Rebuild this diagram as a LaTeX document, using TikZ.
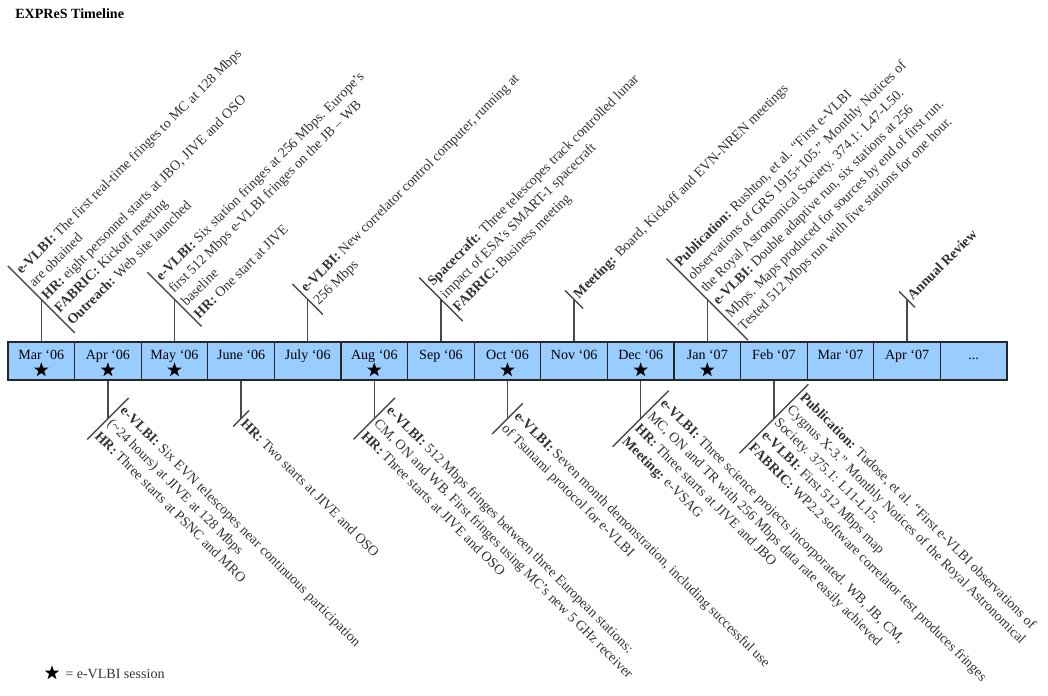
\documentclass[tikz,border=0pt]{standalone}
\usepackage{fontspec}
\setmainfont{Liberation Serif}
\usetikzlibrary{shapes.geometric}
\definecolor{cellblue}{HTML}{99CCFF}
\definecolor{lgrey}{HTML}{4A4A4A}
\definecolor{tgrey}{HTML}{333333}
\tikzset{
  every picture/.style={line width=0.9pt},
  month/.style={draw=black!85, fill=cellblue, minimum width=1.665cm, minimum height=0.95cm, inner sep=0pt, text height=7pt, text depth=9pt, font=\fontsize{10}{12}\selectfont},
  estar/.style={star, star points=5, star point ratio=2.5, fill=black, minimum size=0.38cm, inner sep=0pt},
  callout/.style={anchor=west, align=left, inner xsep=2pt, inner ysep=4pt, text=tgrey, font=\fontsize{10}{12.8}\selectfont},
  upnote/.style={callout, rotate=45},
  downnote/.style={callout, rotate=-45},
  lead/.style={draw=lgrey, line width=1pt},
  title/.style={font=\bfseries, anchor=west},
}

\begin{document}
\begin{tikzpicture}
  \useasboundingbox (0,0) rectangle (26.2,-17.4);
  \node[title] (head) at (0.25,-0.35) {EXPReS Timeline};
  % ---------------- the months
  \node[month] (mar06) at (1.0325,-9.025) {Mar ‘06};
  \node[month] (apr06) at (2.6975,-9.025) {Apr ‘06};
  \node[month] (may06) at (4.3625,-9.025) {May ‘06};
  \node[month] (jun06) at (6.0275,-9.025) {June ‘06};
  \node[month] (jul06) at (7.6925,-9.025) {July ‘06};
  \node[month] (aug06) at (9.3575,-9.025) {Aug ‘06};
  \node[month] (sep06) at (11.0225,-9.025) {Sep ‘06};
  \node[month] (oct06) at (12.6875,-9.025) {Oct ‘06};
  \node[month] (nov06) at (14.3525,-9.025) {Nov ‘06};
  \node[month] (dec06) at (16.0175,-9.025) {Dec ‘06};
  \node[month] (jan07) at (17.6825,-9.025) {Jan ‘07};
  \node[month] (feb07) at (19.3475,-9.025) {Feb ‘07};
  \node[month] (mar07) at (21.0125,-9.025) {Mar ‘07};
  \node[month] (apr07) at (22.6775,-9.025) {Apr ‘07};
  \node[month] (more) at (24.3425,-9.025) {...};
  % ---------------- e-VLBI sessions
  \node[estar] (smar06) at ([yshift=-0.225cm]mar06.center) {};
  \node[estar] (sapr06) at ([yshift=-0.225cm]apr06.center) {};
  \node[estar] (smay06) at ([yshift=-0.225cm]may06.center) {};
  \node[estar] (saug06) at ([yshift=-0.225cm]aug06.center) {};
  \node[estar] (soct06) at ([yshift=-0.225cm]oct06.center) {};
  \node[estar] (sdec06) at ([yshift=-0.225cm]dec06.center) {};
  \node[estar] (sjan07) at ([yshift=-0.225cm]jan07.center) {};
  % ---------------- notes above the bar
  \node[upnote] (tmar06) at ([yshift=1.05cm]mar06.north) {\textbf{e-VLBI:} The first real-time fringes to MC at 128 Mbps\\ are obtained\\ \textbf{HR:} eight personnel starts at JBO, JIVE and OSO\\ \textbf{FABRIC:} Kickoff meeting\\ \textbf{Outreach:} Web site launched};
  \draw[lead] (mar06.north) -- (tmar06.west);
  \draw[lead] (tmar06.north west) -- (tmar06.south west);
  \node[upnote] (tmay06) at ([yshift=1.05cm]may06.north) {\textbf{e-VLBI:} Six station fringes at 256 Mbps. Europe’s\\ first 512 Mbps e-VLBI fringes on the JB – WB\\ baseline\\ \textbf{HR:} One start at JIVE};
  \draw[lead] (may06.north) -- (tmay06.west);
  \draw[lead] (tmay06.north west) -- (tmay06.south west);
  \node[upnote] (tjul06) at ([yshift=1.05cm]jul06.north) {\textbf{e-VLBI:} New correlator control computer, running at\\ 256 Mbps};
  \draw[lead] (jul06.north) -- (tjul06.west);
  \draw[lead] (tjul06.north west) -- (tjul06.south west);
  \node[upnote] (tsep06) at ([yshift=1.05cm]sep06.north) {\textbf{Spacecraft:} Three telescopes track controlled lunar\\ impact of ESA’s SMART-1 spacecraft\\ \textbf{FABRIC:} Business meeting};
  \draw[lead] (sep06.north) -- (tsep06.west);
  \draw[lead] (tsep06.north west) -- (tsep06.south west);
  \node[upnote] (tnov06) at ([yshift=1.05cm]nov06.north) {\textbf{Meeting:} Board, Kickoff and EVN-NREN meetings};
  \draw[lead] (nov06.north) -- (tnov06.west);
  \draw[lead] (tnov06.north west) -- (tnov06.south west);
  \node[upnote] (tjan07) at ([yshift=1.05cm]jan07.north) {\textbf{Publication:} Rushton, et al. “First e-VLBI\\ observations of GRS 1915+105.” Monthly Notices of\\ the Royal Astronomical Society. 374.1: L47-L50.\\ \textbf{e-VLBI:} Double adaptive run, six stations at 256\\ Mbps. Maps produced for sources by end of first run.\\ Tested 512 Mbps run with five stations for one hour.};
  \draw[lead] (jan07.north) -- (tjan07.west);
  \draw[lead] (tjan07.north west) -- (tjan07.south west);
  \node[upnote] (tapr07) at ([yshift=1.05cm]apr07.north) {\textbf{Annual Review}};
  \draw[lead] (apr07.north) -- (tapr07.west);
  \draw[lead] (tapr07.north west) -- (tapr07.south west);
  % ---------------- notes below the bar
  \node[downnote] (bapr06) at ([yshift=-0.95cm]apr06.south) {\textbf{e-VLBI:} Six EVN telescopes near continuous participation\\ (\textasciitilde24 hours) at JIVE at 128 Mbps\\ \textbf{HR:} Three starts at PSNC and MRO};
  \draw[lead] (apr06.south) -- (bapr06.west);
  \draw[lead] (bapr06.north west) -- (bapr06.south west);
  \node[downnote] (bjun06) at ([yshift=-0.95cm]jun06.south) {\textbf{HR:} Two starts at JIVE and OSO};
  \draw[lead] (jun06.south) -- (bjun06.west);
  \draw[lead] (bjun06.north west) -- (bjun06.south west);
  \node[downnote] (baug06) at ([yshift=-0.95cm]aug06.south) {\textbf{e-VLBI:} 512 Mbps fringes between three European stations:\\ CM, ON and WB. First fringes using MC’s new 5 GHz receiver\\ \textbf{HR:} Three starts at JIVE and OSO};
  \draw[lead] (aug06.south) -- (baug06.west);
  \draw[lead] (baug06.north west) -- (baug06.south west);
  \node[downnote] (boct06) at ([yshift=-0.95cm]oct06.south) {\textbf{e-VLBI:} Seven month demonstration, including successful use\\ of Tsunami protocol for e-VLBI};
  \draw[lead] (oct06.south) -- (boct06.west);
  \draw[lead] (boct06.north west) -- (boct06.south west);
  \node[downnote] (bdec06) at ([yshift=-0.95cm]dec06.south) {\textbf{e-VLBI:} Three science projects incorporated. WB, JB, CM,\\ MC, ON and TR with 256 Mbps data rate easily achieved\\ \textbf{HR:} Three starts at JIVE and JBO\\ \textbf{Meeting:} e-VSAG};
  \draw[lead] (dec06.south) -- (bdec06.west);
  \draw[lead] (bdec06.north west) -- (bdec06.south west);
  \node[downnote] (bfeb07) at ([yshift=-0.95cm]feb07.south) {\textbf{Publication:} Tudose, et al. “First e-VLBI observations of\\ Cygnus X-3.” Monthly Notices of the Royal Astronomical\\ Society. 375.1: L11-L15.\\ \textbf{e-VLBI:} First 512 Mbps map\\ \textbf{FABRIC:} WP2.2 software correlator test produces fringes};
  \draw[lead] (feb07.south) -- (bfeb07.west);
  \draw[lead] (bfeb07.north west) -- (bfeb07.south west);
  % ---------------- key
  \node[estar] (key) at (1.3,-16.825) {};
  \node[anchor=west, text=tgrey] (keytext) at (1.5,-16.84) {= e-VLBI session};
\end{tikzpicture}
\end{document}
